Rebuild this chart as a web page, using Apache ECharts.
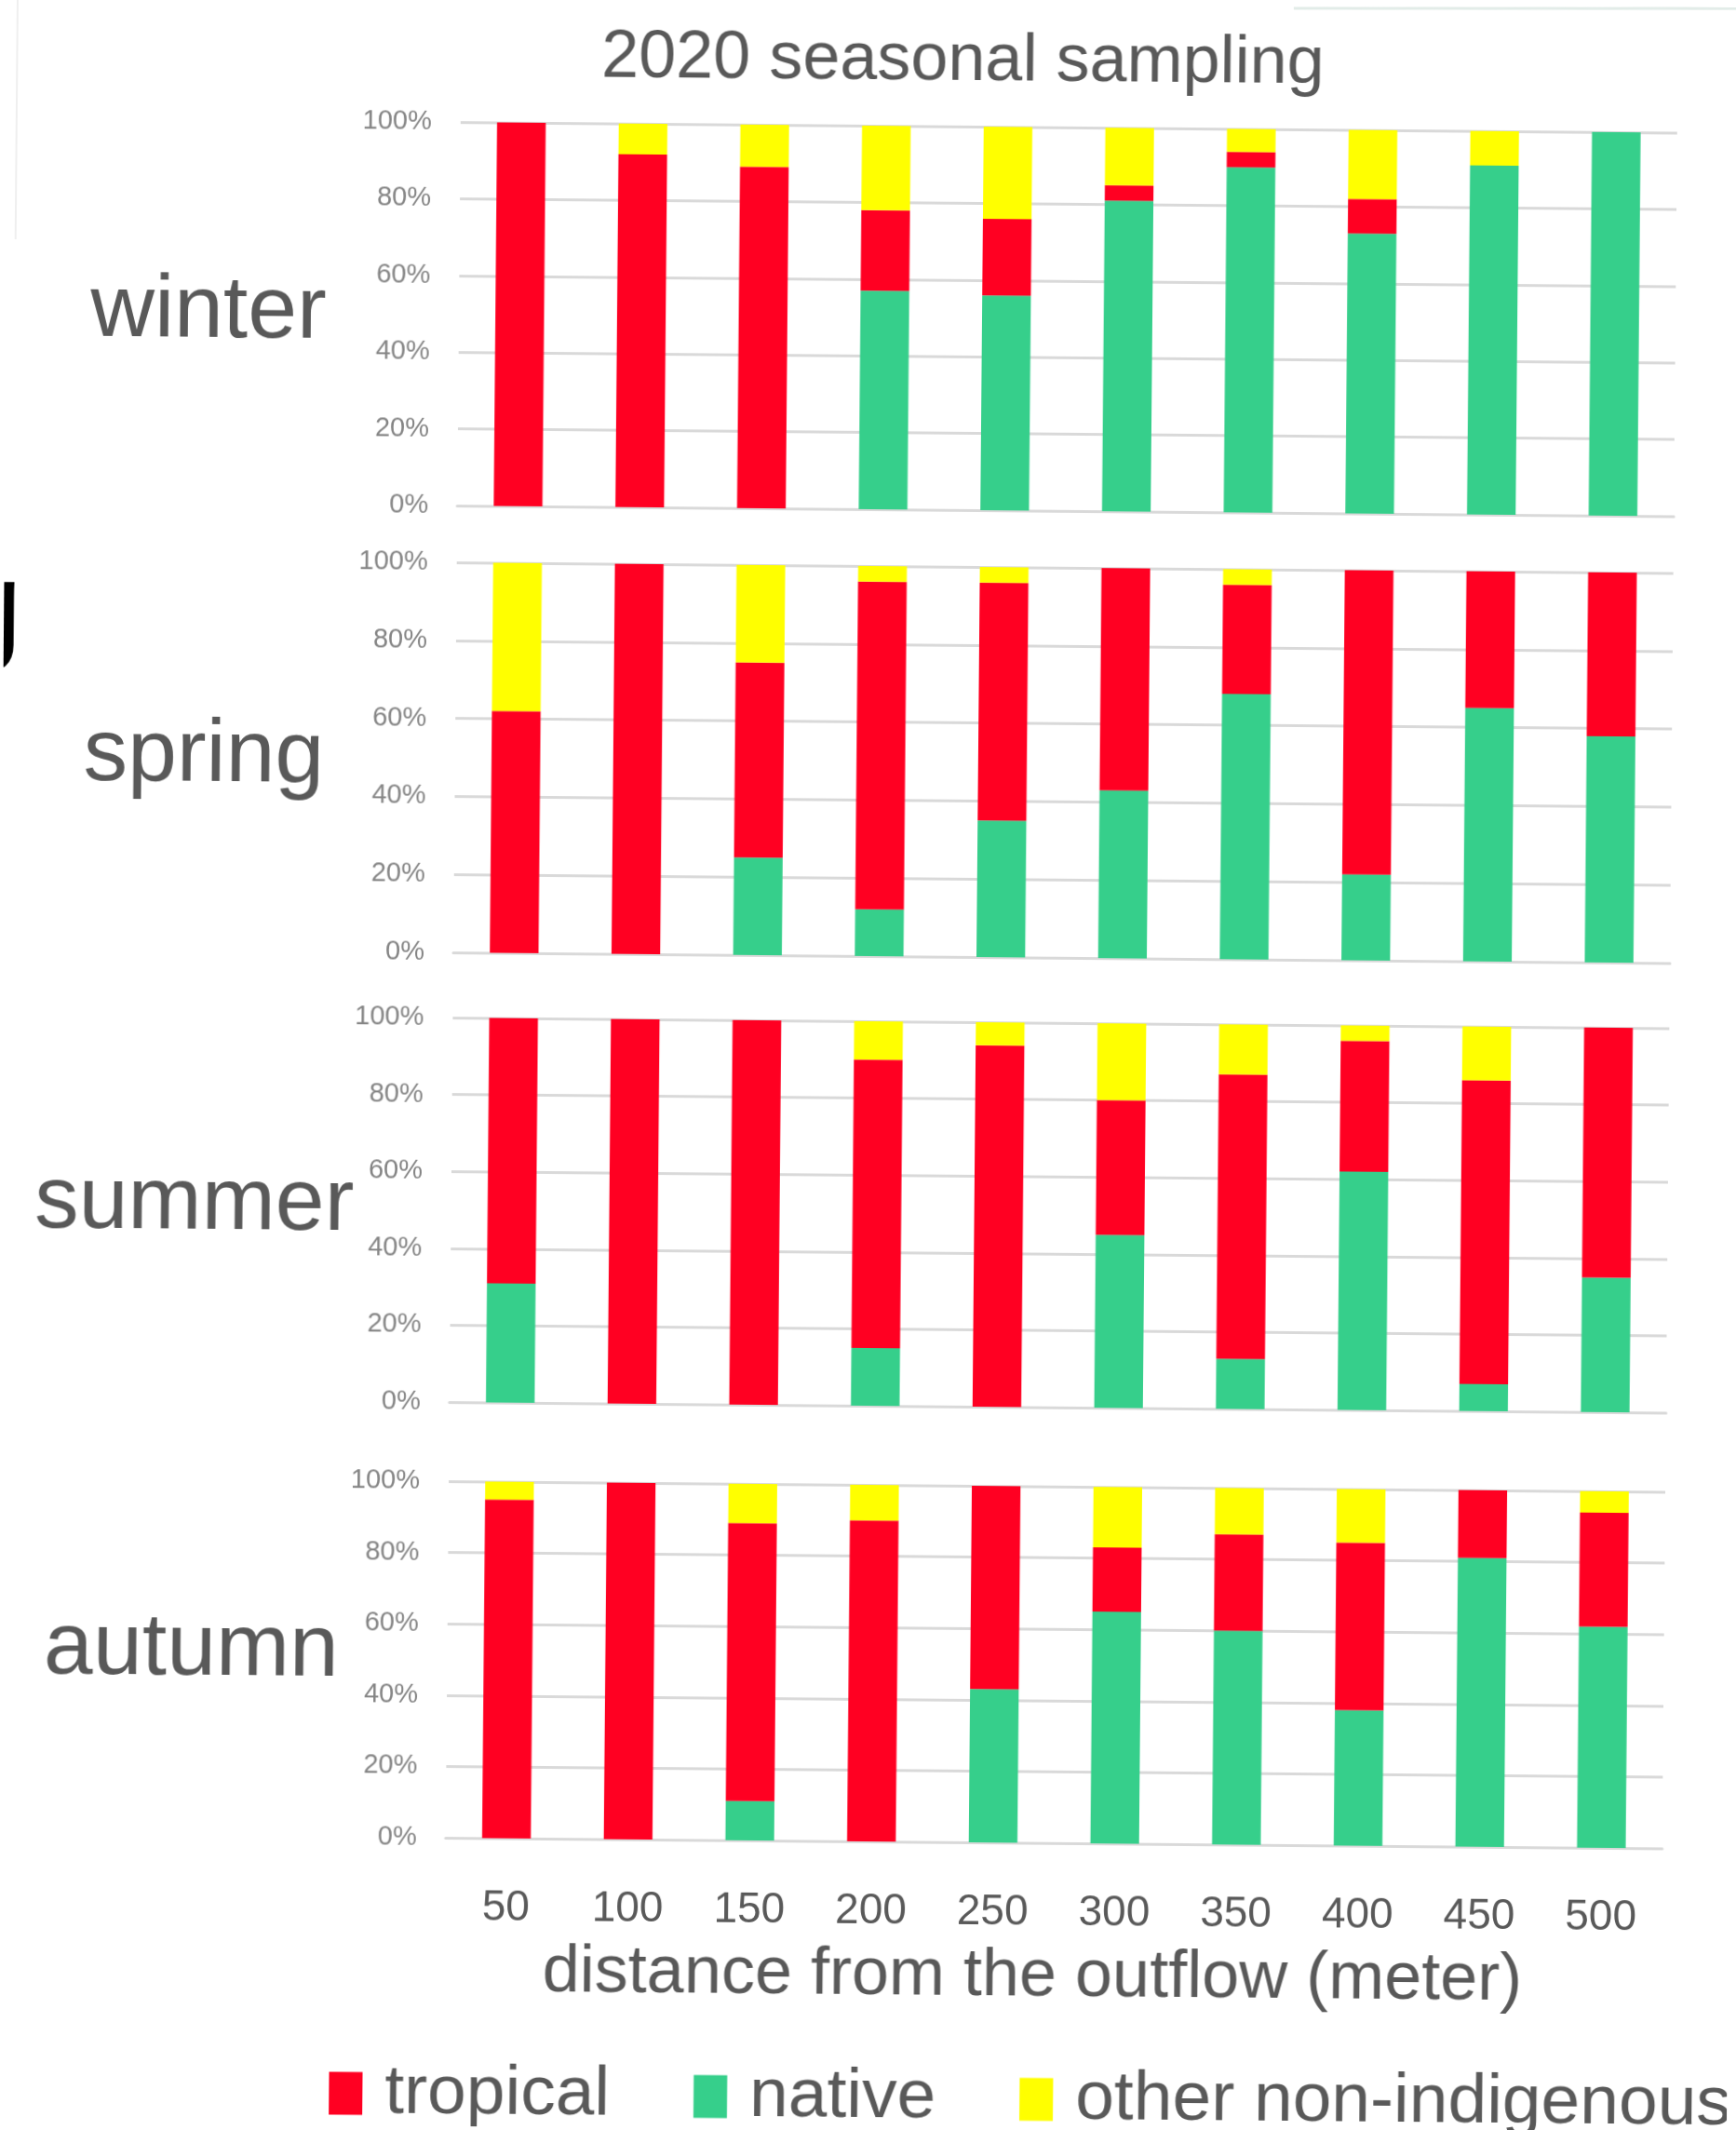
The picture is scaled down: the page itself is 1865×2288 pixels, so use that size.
<!DOCTYPE html>
<html>
<head>
<meta charset="utf-8">
<title>2020 seasonal sampling</title>
<script src="https://cdn.jsdelivr.net/npm/echarts@6/dist/echarts.min.js"></script>
<style>
  html, body { margin: 0; padding: 0; background: #ffffff; overflow: hidden; }
  #chart {
    position: absolute; left: 0; top: 0;
    width: 1865px; height: 2288px;
    transform: rotate(0.5deg);
    transform-origin: 50% 50%;
  }
</style>
</head>
<body>
<div id="chart"></div>
<script>
// Sampling stations (distance from the outflow, metres)
const distances = ['50', '100', '150', '200', '250', '300', '350', '400', '450', '500'];
const seasonNames = ['winter', 'spring', 'summer', 'autumn'];
const groupNames = ['tropical', 'native', 'other non-indigenous'];

// Share of each group (%) per station
const winterNative   = [0, 0, 0, 57, 56, 81, 90, 73, 91, 100];
const winterTropical = [100, 92, 89, 21, 20, 4, 4, 9, 0, 0];
const winterOther    = [0, 8, 11, 22, 24, 15, 6, 18, 9, 0];

const springNative   = [0, 0, 25, 12, 35, 43, 68, 22, 65, 58];
const springTropical = [62, 100, 50, 84, 61, 57, 28, 78, 35, 42];
const springOther    = [38, 0, 25, 4, 4, 0, 4, 0, 0, 0];

const summerNative   = [31, 0, 0, 15, 0, 45, 13, 62, 7, 35];
const summerTropical = [69, 100, 100, 75, 94, 35, 74, 34, 79, 65];
const summerOther    = [0, 0, 0, 10, 6, 20, 13, 4, 14, 0];

const autumnNative   = [0, 0, 11, 0, 43, 65, 60, 38, 81, 62];
const autumnTropical = [95, 100, 78, 90, 57, 18, 27, 47, 19, 32];
const autumnOther    = [5, 0, 11, 10, 0, 17, 13, 15, 0, 6];

const seasonData = [
  [winterNative, winterTropical, winterOther],
  [springNative, springTropical, springOther],
  [summerNative, summerTropical, summerOther],
  [autumnNative, autumnTropical, autumnOther]
];

// Layout of the four stacked panels
const plotLeft = 486;
const plotWidth = 1307;
const gridTops = [135, 608, 1097, 1595];
const gridHeights = [412, 419, 413, 383];
const seasonLabelPos = [[217, 342], [216, 819], [210, 1300], [211, 1779]];

const FONT = '"Liberation Sans", Arial, sans-serif';
const TEXT_GREY = '#595959';
const GRID_GREY = '#d9d9d9';
const colors = { tropical: '#ff0022', native: '#36cf8b', other: '#ffff00' };

const grids = [], xAxes = [], yAxes = [], series = [], graphics = [];

seasonNames.forEach((season, i) => {
  const last = i === seasonNames.length - 1;
  grids.push({ left: plotLeft, width: plotWidth, top: gridTops[i], height: gridHeights[i] });

  xAxes.push({
    type: 'category', gridIndex: i, data: distances,
    axisTick: { show: false },
    axisLine: { show: true, lineStyle: { color: GRID_GREY, width: 3 } },
    axisLabel: { show: last, margin: 52, fontSize: 46, color: TEXT_GREY, fontFamily: FONT },
    name: last ? 'distance from the outflow (meter)' : '',
    nameLocation: 'middle', nameGap: 108,
    nameTextStyle: { fontSize: 72, color: TEXT_GREY, fontFamily: FONT, padding: [0, 44, 0, 0] }
  });

  yAxes.push({
    type: 'value', gridIndex: i, min: 0, max: 100, interval: 20,
    axisLine: { show: false }, axisTick: { show: false },
    axisLabel: { formatter: '{value}%', fontSize: 29, color: '#858585', margin: 31, fontFamily: FONT },
    splitLine: { show: true, lineStyle: { color: GRID_GREY, width: 3 } }
  });

  const [nat, trop, oth] = seasonData[i];
  const common = { type: 'bar', xAxisIndex: i, yAxisIndex: i, stack: 'share' + i, barWidth: '40%' };
  series.push(Object.assign({ name: 'native', data: nat, itemStyle: { color: colors.native } }, common));
  series.push(Object.assign({ name: 'tropical', data: trop, itemStyle: { color: colors.tropical } }, common));
  series.push(Object.assign({ name: 'other non-indigenous', data: oth, itemStyle: { color: colors.other } }, common));

  graphics.push({
    type: 'text', x: seasonLabelPos[i][0], y: seasonLabelPos[i][1],
    style: { text: season, fontSize: 95, fontFamily: FONT, fill: TEXT_GREY, align: 'center', verticalAlign: 'middle' }
  });
});

// Title
graphics.push({
  type: 'text', x: 1025, y: 65,
  style: { text: '2020 seasonal sampling', fontSize: 72, fontFamily: FONT, fill: TEXT_GREY, align: 'center', verticalAlign: 'middle' }
});
// Edge remnants along the border of the figure
graphics.push({
  type: 'text', x: 20, y: 733,
  style: { text: 'g', fontSize: 132, fontWeight: 'bold', fontFamily: FONT, fill: '#000000', align: 'right', verticalAlign: 'bottom' }
});
graphics.push({ type: 'line', shape: { x1: 1380, y1: 5, x2: 1865, y2: 1 }, style: { stroke: '#e2ece8', lineWidth: 3 } });
graphics.push({ type: 'line', shape: { x1: 9, y1: 0, x2: 9, y2: 265 }, style: { stroke: '#efefef', lineWidth: 2 } });

const chart = echarts.init(document.getElementById('chart'), null, { renderer: 'canvas' });
chart.setOption({
  animation: false,
  backgroundColor: '#ffffff',
  grid: grids,
  xAxis: xAxes,
  yAxis: yAxes,
  series: series,
  legend: {
    data: groupNames,
    left: 358, top: 2211, width: 1700,
    icon: 'rect', itemWidth: 36, itemHeight: 46, itemGap: 90,
    selectedMode: false,
    textStyle: { fontSize: 75, color: TEXT_GREY, fontFamily: FONT, padding: [0, 0, 0, 19] }
  },
  graphic: graphics
});
</script>
</body>
</html>
